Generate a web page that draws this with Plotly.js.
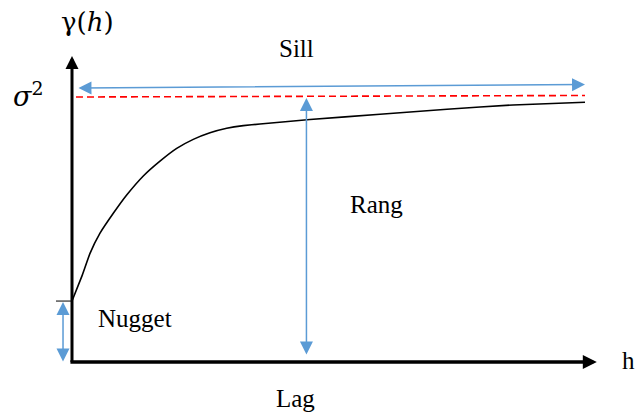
<!DOCTYPE html>
<html>
<head>
<meta charset="utf-8">
<script src="https://cdn.plot.ly/plotly-3.0.1.min.js"></script>
<style>html,body{margin:0;padding:0;background:#fff;}#chart{width:644px;height:413px;}</style>
</head>
<body>
<div id="chart"></div>
<script>
// ---- data (lag h in relative units, semivariance gamma relative to sill) ----
const lagValues   = [0, 1.89, 3.51, 5.46, 8.05, 10.66, 13.9, 17.15, 20.41, 23.64, 26.9, 30.16, 33.39, 36.65, 46.39, 60.04, 73.1, 85.96, 100];
const gammaValues = [0.23, 0.322, 0.410, 0.486, 0.561, 0.630, 0.702, 0.758, 0.806, 0.840, 0.865, 0.882, 0.892, 0.898, 0.915, 0.935, 0.954, 0.970, 0.980];
const sillLag     = [0.78, 100];
const sillGamma   = [1.0, 1.0057];
const nugget      = 0.23;
const rangeLag    = 45.7;
const labels = {sill: 'Sill', range: 'Rang', nugget: 'Nugget', lag: 'Lag', h: 'h', gamma: 'γ(<i>h</i>)', sigma: '<i>σ</i><sup>2</sup>'};

// ---- geometry ----
const W = 644, H = 413;
const ox = 72, oy = 362, sx = 5.13, sy = 265;
const xr = [(0 - ox) / sx, (W - ox) / sx];
const yr = [(oy - H) / sy, oy / sy];
const blue = '#5B9BD5';
const SERIF = "'Liberation Serif', 'Times New Roman', Times, serif";
const MATH = "'DejaVu Serif', serif";

const traces = [
  {x: lagValues, y: gammaValues, mode: 'lines', line: {color: '#000', width: 1.6, shape: 'spline', smoothing: 0.3}, hoverinfo: 'skip'},
  {x: sillLag, y: sillGamma, mode: 'lines', line: {color: '#FF0000', width: 1.6, dash: '7px,4px'}, hoverinfo: 'skip'},
  {x: [-3.12, 0], y: [nugget, nugget], mode: 'lines', line: {color: '#000', width: 1}, hoverinfo: 'skip'}
];

function arrow(x, y, ax, ay, color, width, size, both) {
  const a = {x: x, y: y, ax: ax, ay: ay, xref: 'x', yref: 'y', axref: 'x', ayref: 'y',
    text: '', showarrow: true, arrowhead: 2, arrowsize: size, arrowwidth: width, arrowcolor: color, standoff: 0};
  if (both) { a.arrowside = 'end+start'; a.startarrowhead = 2; a.startarrowsize = size; a.startstandoff = 0; }
  return a;
}
function label(text, px, py, size, family) {
  return {x: px / W, y: 1 - py / H, xref: 'paper', yref: 'paper', text: text, showarrow: false,
    xanchor: 'center', yanchor: 'middle', font: {family: family || SERIF, size: size, color: '#000'}};
}

const annotations = [
  // axes
  arrow(0, 1.155, 0, -0.006, '#000', 3, 0.87, false),
  arrow(102.3, 0, -0.6, 0, '#000', 3.5, 0.8, false),
  // sill arrow
  arrow(100, 1.047, 0.97, 1.034, blue, 1.5, 1.73, true),
  // range arrow
  arrow(rangeLag, 0.996, rangeLag, 0.0226, blue, 1.5, 1.73, true),
  // nugget arrow
  arrow(-1.75, 0.226, -1.75, -0.004, blue, 1.5, 1.73, true),
  // labels
  label(labels.sill, 296, 48, 25),
  label(labels.range, 376, 204, 25),
  label(labels.nugget, 135, 318, 25),
  label(labels.lag, 295, 398, 25),
  label(labels.h, 628, 360, 25),
  label(labels.gamma, 87, 22, 26, MATH),
  label(labels.sigma, 28, 95, 27, MATH)
];

const layout = {
  width: W, height: H,
  margin: {l: 0, r: 0, t: 0, b: 0},
  paper_bgcolor: '#fff', plot_bgcolor: '#fff',
  showlegend: false,
  font: {family: SERIF},
  xaxis: {range: xr, visible: false, fixedrange: true},
  yaxis: {range: yr, visible: false, fixedrange: true},
  annotations: annotations
};
Plotly.newPlot('chart', traces, layout, {staticPlot: true, displayModeBar: false});
</script>
</body>
</html>
